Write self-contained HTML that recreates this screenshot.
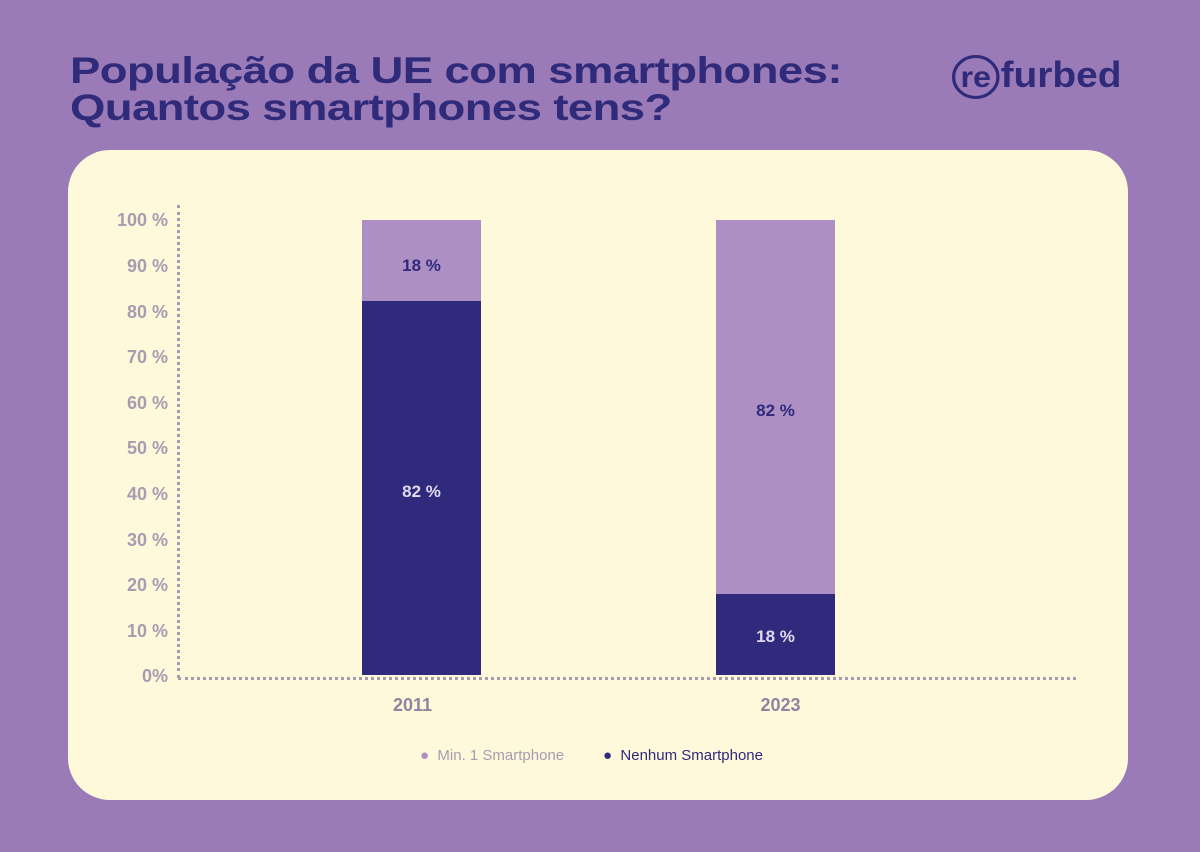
<!DOCTYPE html>
<html><head><meta charset="utf-8"><style>
body{margin:0;width:1200px;height:852px;background:#9a7bb7;position:relative;overflow:hidden;font-family:"Liberation Sans",sans-serif}
.t{position:absolute;left:70px;top:52px;color:#2f2a7a;font-weight:bold;font-size:37px;line-height:37px;letter-spacing:-0.5px;transform:scaleX(1.23);transform-origin:0 0;white-space:nowrap}
.logo{position:absolute;left:952px;top:54px;color:#2f2a7a;font-size:36px;font-weight:bold;transform:scaleX(1.08);transform-origin:0 0}
.logo span{display:inline-block;border:3px solid #2f2a7a;border-radius:50%;width:44px;height:44px;line-height:40px;text-align:center;box-sizing:border-box;font-size:30px;vertical-align:middle;margin-right:1px}
.card{position:absolute;left:68px;top:150px;width:1060px;height:650px;background:#fff9dc;border-radius:42px}
.yl{position:absolute;width:100px;left:68px;text-align:right;color:#a99bb0;font-weight:bold;font-size:18px}
.bar{position:absolute;width:119px}
.v{position:absolute;width:119px;text-align:center;font-weight:bold;font-size:17px}
.x{position:absolute;width:119px;text-align:center;color:#8f85a0;font-weight:bold;font-size:18px;top:695px}
.lg{position:absolute;top:747px;font-size:15px}
</style></head><body>
<div class="t">População da UE com smartphones:<br>Quantos smartphones tens?</div>
<div class="logo"><span>re</span>furbed</div>
<div class="card"></div>
<div style="position:absolute;left:177px;top:205px;height:473px;border-left:3px dotted #a99bb0"></div>
<div style="position:absolute;left:178px;top:677px;width:898px;border-top:3px dotted #a99bb0"></div>
<div class="yl" style="top:210px">100 %</div><div class="yl" style="top:256px">90 %</div><div class="yl" style="top:302px">80 %</div><div class="yl" style="top:347px">70 %</div><div class="yl" style="top:393px">60 %</div><div class="yl" style="top:438px">50 %</div><div class="yl" style="top:484px">40 %</div><div class="yl" style="top:530px">30 %</div><div class="yl" style="top:575px">20 %</div><div class="yl" style="top:621px">10 %</div><div class="yl" style="top:666px">0%</div>
<div class="bar" style="left:362px;top:220px;height:81px;background:#ad8fc4"></div>
<div class="bar" style="left:362px;top:301px;height:374px;background:#2f2a7c"></div>
<div class="bar" style="left:716px;top:220px;height:374px;background:#ad8fc4"></div>
<div class="bar" style="left:716px;top:594px;height:81px;background:#2f2a7c"></div>
<div class="v" style="left:362px;top:256px;color:#2f2a7c">18 %</div>
<div class="v" style="left:362px;top:482px;color:#e0d8ee">82 %</div>
<div class="v" style="left:716px;top:401px;color:#2f2a7c">82 %</div>
<div class="v" style="left:716px;top:627px;color:#e0d8ee">18 %</div>
<div class="x" style="left:353px">2011</div><div class="x" style="left:721px">2023</div>
<div class="lg" style="left:420px;color:#a99bb0"><span style="color:#ad8fc4">●</span>&nbsp;&nbsp;Min. 1 Smartphone</div>
<div class="lg" style="left:603px;color:#2f2a7c"><span>●</span>&nbsp;&nbsp;Nenhum Smartphone</div>
</body></html>
